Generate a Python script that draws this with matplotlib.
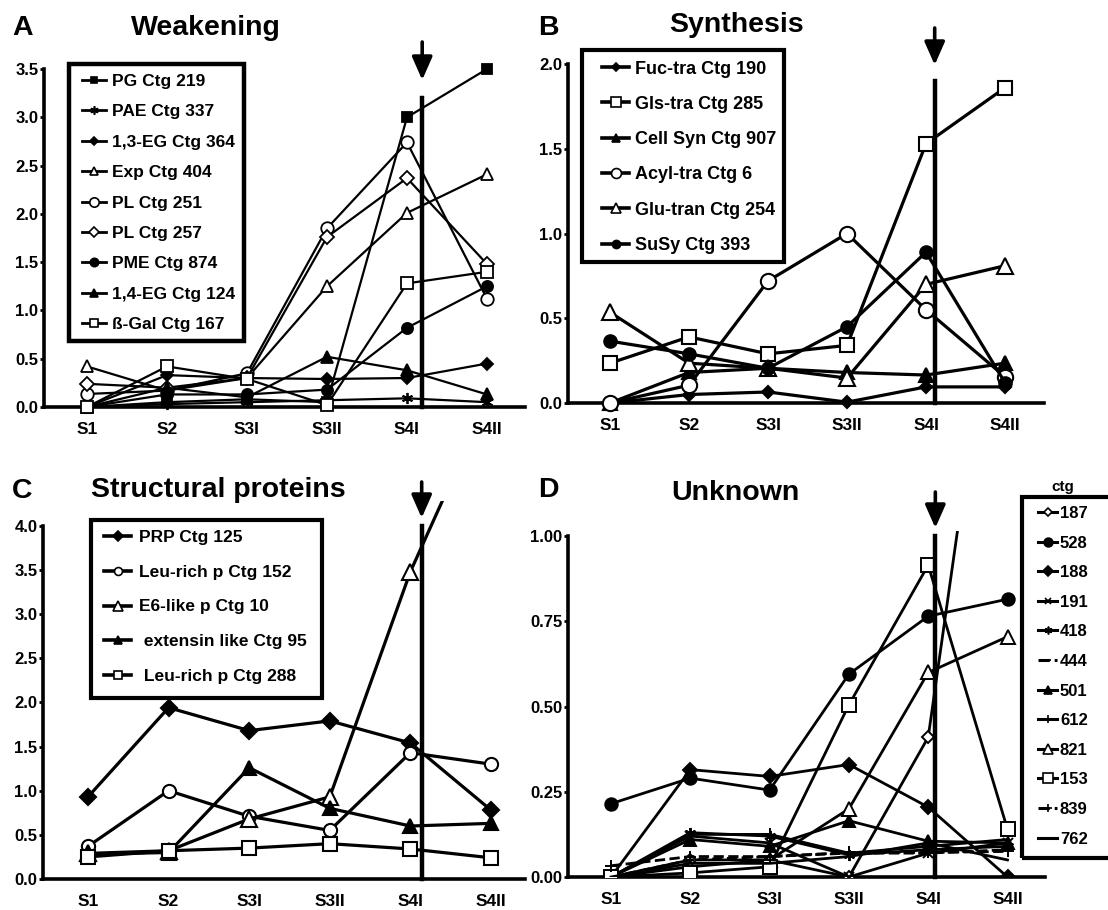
import matplotlib
matplotlib.use('Agg')
import matplotlib.pyplot as plt
from matplotlib.lines import Line2D
from matplotlib.patches import Rectangle

plt.rcParams['font.family'] = ['Liberation Sans', 'DejaVu Sans']
plt.rcParams['font.weight'] = 'bold'

# ---------------- data ----------------
stages = ['S1', 'S2', 'S3I', 'S3II', 'S4I', 'S4II']

# Panel A - Weakening
a_labels = ['PG Ctg 219', 'PAE Ctg 337', '1,3-EG Ctg 364', 'Exp Ctg 404', 'PL Ctg 251',
            'PL Ctg 257', 'PME Ctg 874', '1,4-EG Ctg 124', 'ß-Gal Ctg 167']
a_pg219 = [0.0, 0.05, 0.08, 0.05, 3.0, 3.5]
a_pae337 = [0.0, 0.03, 0.05, 0.07, 0.09, 0.05]
a_eg364 = [0.0, 0.33, 0.30, 0.29, 0.30, 0.45]
a_exp404 = [0.42, 0.17, 0.30, 1.25, 2.01, 2.41]
a_pl251 = [0.135, 0.17, 0.35, 1.85, 2.74, 1.12]
a_pl257 = [0.24, 0.20, 0.30, 1.76, 2.37, 1.48]
a_pme874 = [0.0, 0.13, 0.13, 0.18, 0.82, 1.25]
a_eg124 = [0.0, 0.20, 0.10, 0.52, 0.38, 0.13]
a_gal167 = [0.0, 0.42, 0.29, 0.02, 1.28, 1.40]

# Panel B - Synthesis
b_labels = ['Fuc-tra Ctg 190', 'Gls-tra Ctg 285', 'Cell Syn Ctg 907', 'Acyl-tra Ctg 6',
            'Glu-tran Ctg 254', 'SuSy Ctg 393']
b_fuc190 = [0.0, 0.05, 0.065, 0.005, 0.095, 0.095]
b_gls285 = [0.235, 0.39, 0.29, 0.34, 1.53, 1.86]
b_cell907 = [0.0, 0.18, 0.205, 0.18, 0.165, 0.235]
b_acyl6 = [0.0, 0.105, 0.72, 1.0, 0.55, 0.155]
b_glu254 = [0.535, 0.235, 0.205, 0.147, 0.70, 0.81]
b_susy393 = [0.365, 0.29, 0.205, 0.45, 0.89, 0.12]

# Panel C - Structural proteins
c_labels = ['PRP Ctg 125', 'Leu-rich p Ctg 152', 'E6-like p Ctg 10',
            ' extensin like Ctg 95', ' Leu-rich p Ctg 288']
c_prp125 = [0.93, 1.94, 1.68, 1.79, 1.54, 0.78]
c_leu152 = [0.37, 1.0, 0.71, 0.55, 1.43, 1.30]
c_e6_10 = [0.29, 0.32, 0.68, 0.93, 3.48, 5.5]
c_ext95 = [0.28, 0.30, 1.26, 0.80, 0.60, 0.63]
c_leu288 = [0.25, 0.32, 0.35, 0.40, 0.34, 0.24]

# Panel D - Unknown
d_labels = ['187', '528', '188', '191', '418', '444', '501', '612', '821', '153', '839', '762']
d_187 = [0.0, 0.05, 0.05, 0.0, 0.41, 2.05]
d_528 = [0.215, 0.29, 0.255, 0.595, 0.765, 0.815]
d_188 = [0.0, 0.315, 0.295, 0.33, 0.205, 0.0]
d_191 = [0.0, 0.12, 0.10, 0.0, 0.07, 0.10]
d_418 = [0.0, 0.13, 0.12, 0.065, 0.08, 0.09]
d_444 = [0.0, 0.05, 0.06, 0.07, 0.07, 0.08]
d_501 = [0.0, 0.11, 0.09, 0.165, 0.105, 0.10]
d_612 = [0.0, 0.125, 0.125, 0.07, 0.09, 0.11]
d_821 = [0.0, 0.03, 0.05, 0.20, 0.60, 0.705]
d_153 = [0.0, 0.012, 0.03, 0.505, 0.915, 0.14]
d_839 = [0.033, 0.06, 0.06, 0.072, 0.072, 0.075]
d_762 = [0.0, 0.04, 0.04, 0.06, 0.10, 0.05]

# ---------------- layout helpers ----------------
W, H = 1108, 910
fig = plt.figure(figsize=(W / 100, H / 100), dpi=100)
fig.patch.set_facecolor('white')


def fx(x):
    return x / W


def fy(y):
    return 1 - y / H


ASTER = (6, 2, 0)


def style(marker, filled, ms, ls='-'):
    return dict(marker=marker, filled=filled, ms=ms, ls=ls)


def make_axes(left, right, y0, ytop, s1_px, step_px, ylim, spine_top, yticks, ylabels):
    ax = fig.add_axes([fx(left), fy(y0), (right - left) / W, (y0 - ytop) / H])
    ax.set_xlim((left - s1_px) / step_px, (right - s1_px) / step_px)
    ax.set_ylim(*ylim)
    for s in ['top', 'right']:
        ax.spines[s].set_visible(False)
    ax.spines['left'].set_linewidth(2.6)
    ax.spines['bottom'].set_linewidth(2.6)
    ax.spines['left'].set_bounds(0, spine_top)
    ax.set_xticks(range(len(stages)))
    ax.set_xticklabels(stages, fontsize=12.5, fontweight='bold')
    ax.tick_params(axis='x', length=0, pad=11)
    ax.set_yticks(yticks)
    ax.set_yticklabels(ylabels, fontsize=12, fontweight='bold')
    ax.tick_params(axis='y', direction='out', length=3, width=2, pad=1)
    ax.patch.set_alpha(0)
    return ax


def plot_series(ax, series, styles, lw, mew, clip=True):
    x = list(range(len(stages)))
    for vals, st in zip(series, styles):
        kw = dict(color='black', lw=lw, ls=st['ls'], zorder=3, clip_on=clip)
        if st['marker'] is not None:
            kw.update(marker=st['marker'], ms=st['ms'], mec='black',
                      mfc='black' if st['filled'] else 'white', mew=mew)
        ax.plot(x, vals, **kw)


def stage_line(ax, xv, ytop, arrow_top, arrow_bot):
    ax.plot([xv, xv], [0, ytop], color='black', lw=3.2, zorder=4, clip_on=False)
    ax.annotate('', xy=(xv, fy(arrow_bot)), xytext=(xv, fy(arrow_top)),
                xycoords=('data', 'figure fraction'), textcoords=('data', 'figure fraction'),
                annotation_clip=False,
                arrowprops=dict(arrowstyle='-|>,head_length=0.5,head_width=0.22',
                                mutation_scale=28, lw=2.6, color='black',
                                shrinkA=0, shrinkB=0))


def draw_legend(box, labels, styles, y_first, dy, hx0, hx1, tx, fs, blw, lw, mscale):
    x0, y0, x1, y1 = box
    fig.add_artist(Rectangle((fx(x0), fy(y1)), (x1 - x0) / W, (y1 - y0) / H,
                             transform=fig.transFigure, fill=False, lw=blw, ec='black'))
    for i, (lab, st) in enumerate(zip(labels, styles)):
        y = y_first + i * dy
        fig.add_artist(Line2D([fx(hx0), fx(hx1)], [fy(y), fy(y)], transform=fig.transFigure,
                              color='black', lw=lw, ls=st['ls']))
        if st['marker'] is not None:
            fig.add_artist(Line2D([fx((hx0 + hx1) / 2)], [fy(y)], transform=fig.transFigure,
                                  marker=st['marker'], ms=st['ms'] * mscale, mec='black',
                                  mfc='black' if st['filled'] else 'white', mew=1.2, ls='none'))
        fig.text(fx(tx), fy(y), lab, fontsize=fs, fontweight='bold', va='center_baseline', ha='left')


# ---------------- Panel A ----------------
a_series = [a_pg219, a_pae337, a_eg364, a_exp404, a_pl251, a_pl257, a_pme874, a_eg124, a_gal167]
a_styles = [style('s', True, 6.5), style(ASTER, False, 8), style('D', True, 6),
            style('^', False, 8.5), style('o', False, 9), style('D', False, 7),
            style('o', True, 8), style('^', True, 8), style('s', False, 8)]
axA = make_axes(44, 525, 407, 69, 87, 80, (0, 3.5), 3.5,
                [0, 0.5, 1, 1.5, 2, 2.5, 3, 3.5],
                ['0.0', '0.5', '1.0', '1.5', '2.0', '2.5', '3.0', '3.5'])
plot_series(axA, a_series, a_styles, lw=1.6, mew=1.3, clip=False)
stage_line(axA, 4.19, 3.2, 42, 80)
draw_legend((69, 64, 244, 341), a_labels, a_styles, 80, 30.4, 82, 106, 112, 12.5, 3.2, 2.0, 0.75)
fig.text(fx(12), fy(35), 'A', fontsize=20.5, fontweight='bold', va='baseline')
fig.text(fx(131), fy(35), 'Weakening', fontsize=20.5, fontweight='bold', va='baseline')

# ---------------- Panel B ----------------
b_series = [b_fuc190, b_gls285, b_cell907, b_acyl6, b_glu254, b_susy393]
b_styles = [style('D', True, 6.5), style('s', False, 10), style('^', True, 9.5),
            style('o', False, 11), style('^', False, 11), style('o', True, 9)]
axB = make_axes(568, 1044, 403, 64, 610, 79, (0, 2.0), 2.0,
                [0, 0.5, 1.0, 1.5, 2.0], ['0.0', '0.5', '1.0', '1.5', '2.0'])
plot_series(axB, b_series, b_styles, lw=2.3, mew=1.5, clip=False)
stage_line(axB, 4.11, 1.9, 28, 65)
draw_legend((582, 50, 784, 262), b_labels, b_styles, 67, 35.3, 602, 629, 635, 13, 3.0, 2.6, 0.65)
fig.text(fx(538), fy(35), 'B', fontsize=20.5, fontweight='bold', va='baseline')
fig.text(fx(669), fy(32), 'Synthesis', fontsize=20.5, fontweight='bold', va='baseline')

# ---------------- Panel C ----------------
c_series = [c_prp125, c_leu152, c_e6_10, c_ext95, c_leu288]
c_styles = [style('D', True, 8), style('o', False, 9.5), style('^', False, 11),
            style('^', True, 10), style('s', False, 10)]
axC = make_axes(43, 525, 879, 501, 88, 80.6, (0, 4.28), 4.0,
                [0, 0.5, 1, 1.5, 2, 2.5, 3, 3.5, 4],
                ['0.0', '0.5', '1.0', '1.5', '2.0', '2.5', '3.0', '3.5', '4.0'])
plot_series(axC, c_series, c_styles, lw=2.3, mew=1.5)
stage_line(axC, 4.14, 4.0, 482, 518)
draw_legend((91, 520, 322, 698), c_labels, c_styles, 536, 34.75, 104, 131, 139, 12.5, 3.0, 2.6, 0.6)
fig.text(fx(12), fy(498), 'C', fontsize=20.5, fontweight='bold', va='baseline')
fig.text(fx(91), fy(497), 'Structural proteins', fontsize=20.5, fontweight='bold', va='baseline')

# ---------------- Panel D ----------------
d_series = [d_187, d_528, d_188, d_191, d_418, d_444, d_501, d_612, d_821, d_153, d_839, d_762]
d_styles = [style('D', False, 6.5), style('o', True, 9), style('D', True, 7),
            style('x', False, 7), style(ASTER, False, 8), style('_', False, 6, '--'),
            style('^', True, 8.5), style('|', False, 9), style('^', False, 9.5),
            style('s', False, 9.5), style('+', False, 8, '--'), style(None, False, 0)]
axD = make_axes(568, 1045, 877, 531, 611, 79.3, (0, 1.015), 1.0,
                [0, 0.25, 0.5, 0.75, 1.0], ['0.00', '0.25', '0.50', '0.75', '1.00'])
plot_series(axD, d_series, d_styles, lw=2.0, mew=1.4)
stage_line(axD, 4.09, 1.0, 492, 528)
draw_legend((1022, 497, 1125, 858), d_labels, d_styles, 512, 29.6, 1038, 1057, 1060, 12, 3.0, 2.2, 0.7)
fig.text(fx(1063), fy(485), 'ctg', fontsize=11, fontweight='bold', ha='center', va='center_baseline')
fig.text(fx(538), fy(497), 'D', fontsize=20.5, fontweight='bold', va='baseline')
fig.text(fx(671), fy(500), 'Unknown', fontsize=20.5, fontweight='bold', va='baseline')

fig.savefig('out.png', dpi=100, facecolor='white')
